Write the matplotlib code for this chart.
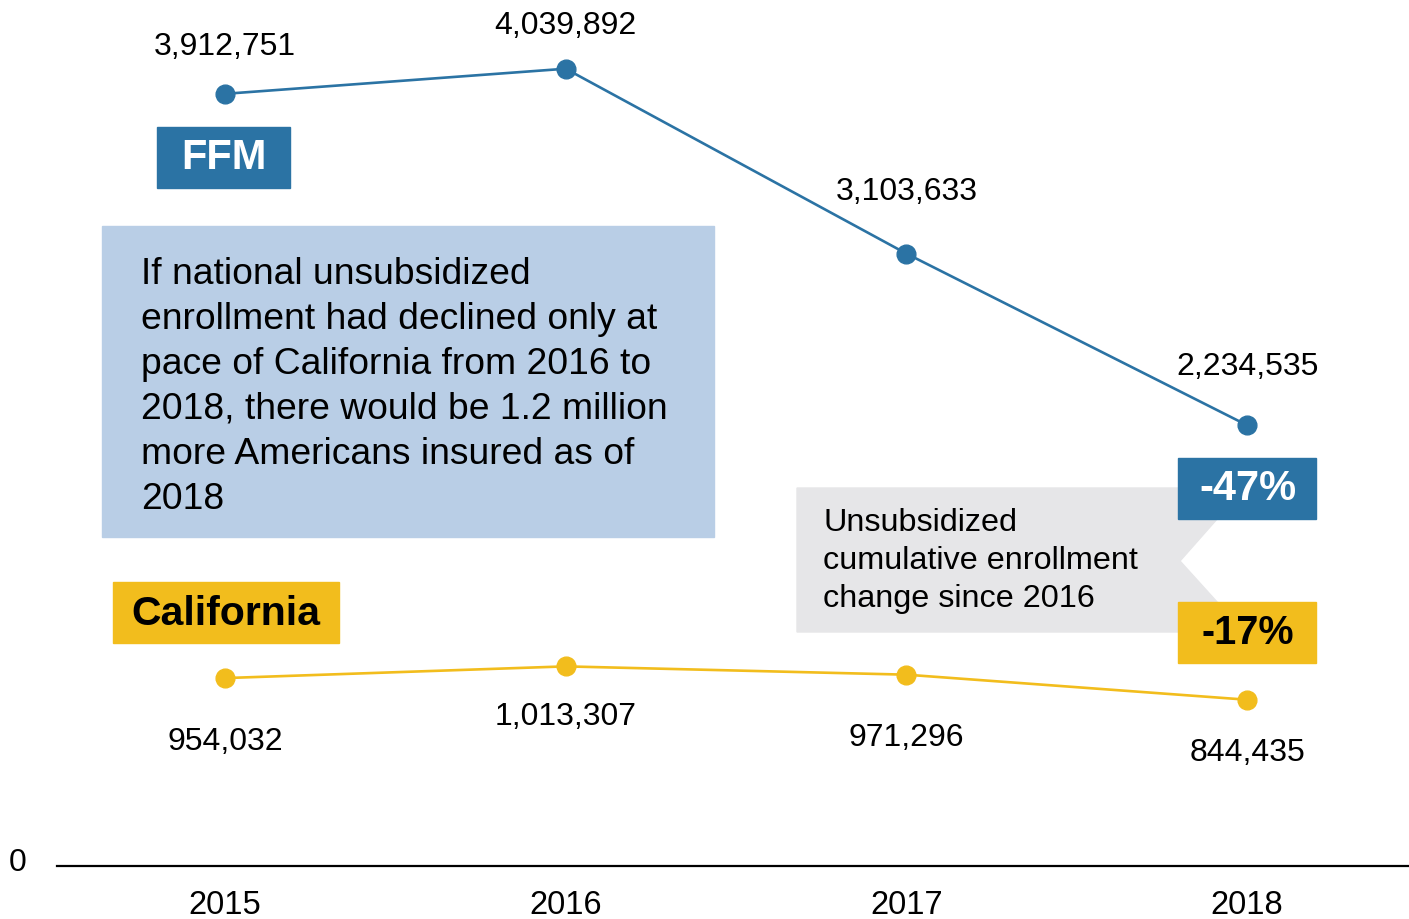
import matplotlib.pyplot as plt
from matplotlib.patches import Rectangle, Polygon

plt.rcParams["font.family"] = ["Liberation Sans", "DejaVu Sans"]

years = [2015, 2016, 2017, 2018]
ffm = [3912751, 4039892, 3103633, 2234535]
california = [954032, 1013307, 971296, 844435]
ffm_change = "-47%"
ca_change = "-17%"
note = ("If national unsubsidized\nenrollment had declined only at\n"
        "pace of California from 2016 to\n2018, there would be 1.2 million\n"
        "more Americans insured as of\n2018")
callout = "Unsubsidized\ncumulative enrollment\nchange since 2016"

BLUE = "#2b73a4"
YELLOW = "#f2bd1d"
NOTE_BG = "#b9cee6"
GRAY_BG = "#e6e6e8"

W, H = 1409, 920
fig = plt.figure(figsize=(W / 100, H / 100), dpi=100)
ax = fig.add_axes([0, 0, 1, 1])
ax.set_xlim(2014.34, 2018.475)
ax.set_ylim(-266000, 4393000)
ax.axis("off")


def fx(x):
    return x / W


def fy(y):
    return 1 - y / H


def box(x0, y0, x1, y1, color):
    fig.patches.append(Rectangle((fx(x0), fy(y1)), fx(x1) - fx(x0), fy(y0) - fy(y1),
                                 transform=fig.transFigure, color=color, zorder=1))


# baseline
ax.plot([2014.34 + 57 / 340.7, 2018.475], [0, 0], color="black", lw=1.6, clip_on=False)
fig.text(fx(18), fy(863), "0", fontsize=23, ha="center", va="center")
for yr in years:
    ax.annotate(str(yr), (yr, 0), xytext=(0, -38), textcoords="offset pixels",
                ha="center", va="center", fontsize=23.5)

# lines
ax.plot(years, ffm, color=BLUE, lw=1.9, marker="o", ms=13.5, zorder=3)
ax.plot(years, california, color=YELLOW, lw=1.9, marker="o", ms=13.5, zorder=3)

ffm_offsets = [48, 44, 63, 59]
ca_offsets = [-63, -50, -62, -52]
for yr, v, off in zip(years, ffm, ffm_offsets):
    ax.annotate(f"{v:,}", (yr, v), xytext=(0, off), textcoords="offset pixels",
                ha="center", va="center", fontsize=23)
for yr, v, off in zip(years, california, ca_offsets):
    ax.annotate(f"{v:,}", (yr, v), xytext=(0, off), textcoords="offset pixels",
                ha="center", va="center", fontsize=23)

# series tags
box(157, 128, 290, 189, BLUE)
fig.text(fx(224), fy(158), "FFM", color="white", fontsize=30, fontweight="bold",
         ha="center", va="center")
box(113, 583, 339, 644, YELLOW)
fig.text(fx(226), fy(614), "California", color="black", fontsize=29.5, fontweight="bold",
         ha="center", va="center")

# note box
box(102, 227, 714, 538, NOTE_BG)
fig.text(fx(141), fy(257), note, fontsize=26.8, ha="left", va="top", linespacing=1.37)

# callout
pts = [(797, 489), (1218, 489), (1218, 519), (1180, 562), (1218, 604), (1218, 633), (797, 633)]
fig.patches.append(Polygon([(fx(x), fy(y)) for x, y in pts], closed=True,
                           transform=fig.transFigure, color=GRAY_BG, zorder=1))
fig.text(fx(823), fy(508), callout, fontsize=23.3, ha="left", va="top", linespacing=1.34)
box(1178, 459, 1316, 520, BLUE)
fig.text(fx(1248), fy(489), ffm_change, color="white", fontsize=30, fontweight="bold",
         ha="center", va="center")
box(1178, 603, 1316, 664, YELLOW)
fig.text(fx(1248), fy(633), ca_change, color="black", fontsize=28.5, fontweight="bold",
         ha="center", va="center")

fig.savefig("out.png", dpi=100)
